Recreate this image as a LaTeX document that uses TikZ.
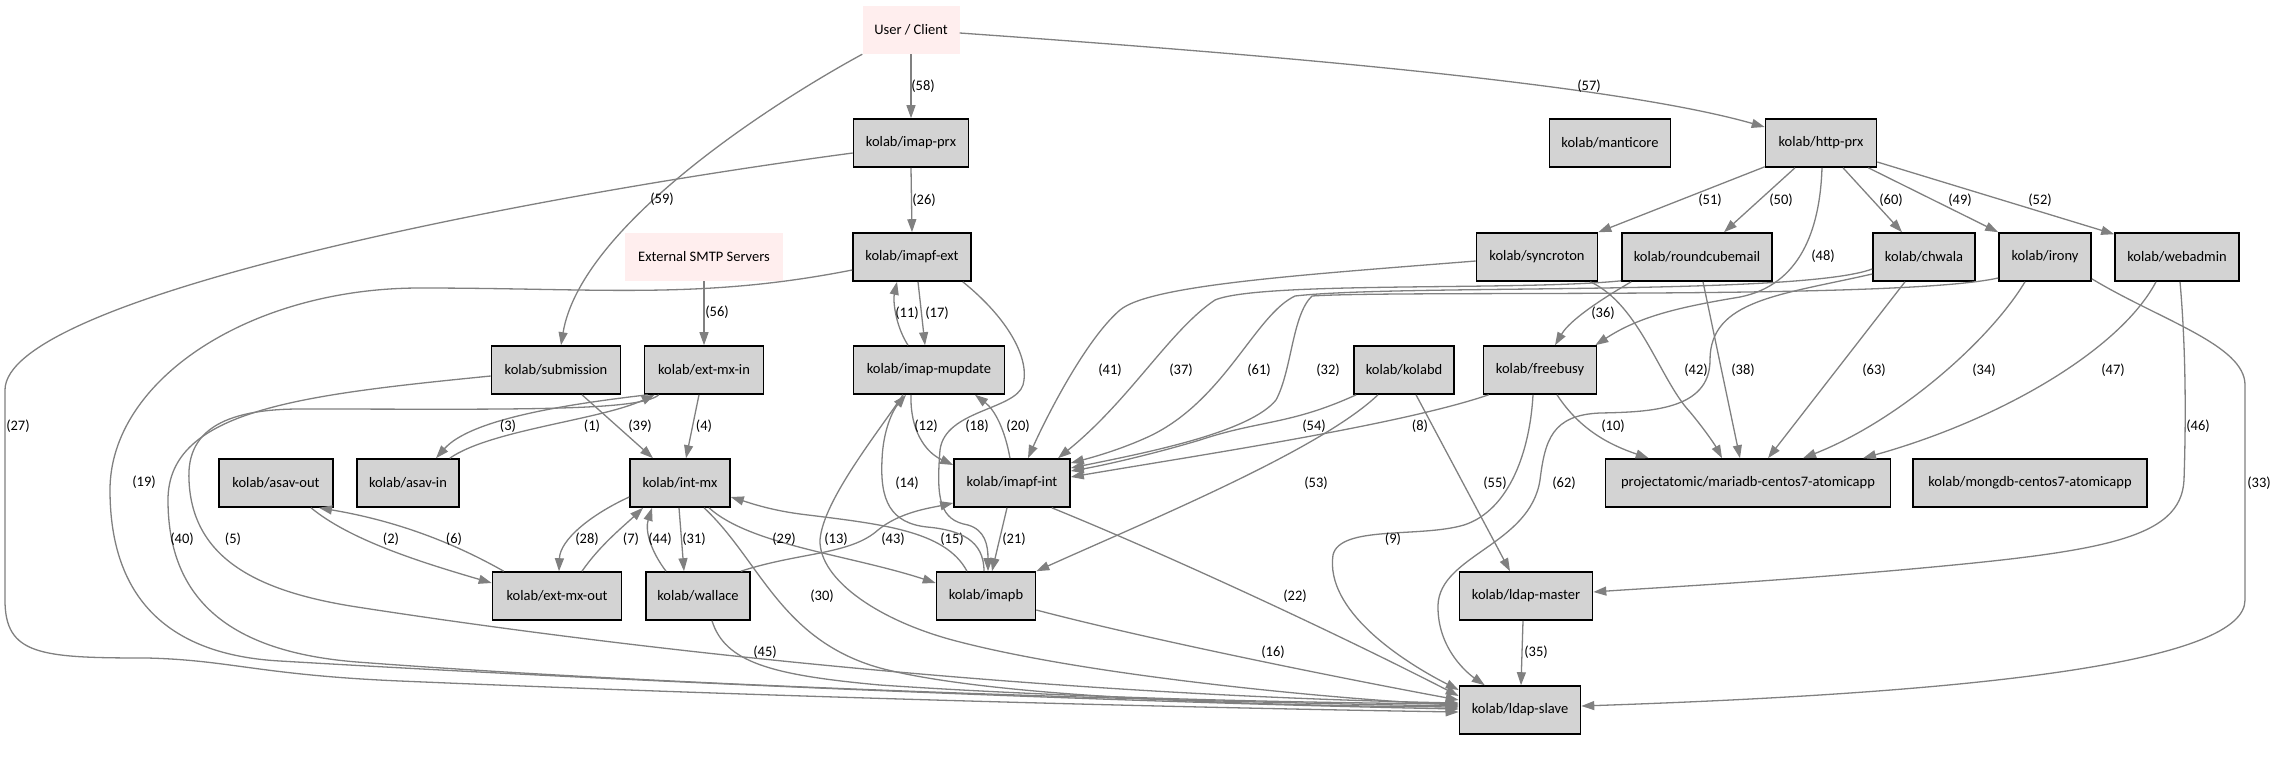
\documentclass[tikz,border=0pt]{standalone}
\usepackage{fontspec}
\setmainfont{Carlito}
\usetikzlibrary{arrows.meta,calc}
\definecolor{edgegray}{HTML}{808080}
\definecolor{nodefill}{HTML}{D3D3D3}
\definecolor{pinkfill}{HTML}{FFEEEE}
\begin{document}
\begin{tikzpicture}[x=1pt,y=-1pt,
  nbox/.style={draw=black, line width=1.6pt, fill=nodefill, minimum height=48pt, inner sep=0pt, font=\fontsize{14.5pt}{17pt}\selectfont},
  pbox/.style={fill=pinkfill, minimum height=48pt, inner sep=0pt, font=\fontsize{14.5pt}{17pt}\selectfont},
  edge/.style={draw=edgegray, line width=1.3pt, -{Triangle[length=13pt,width=9pt]}},
  lbl/.style={font=\fontsize{14.5pt}{17pt}\selectfont, text=black, inner sep=0pt}]
\useasboundingbox (0,0) rectangle (2279,761);
% nodes
\node[pbox, minimum width=97pt] (user) at (911,30) {User / Client};
\node[nbox, minimum width=115pt] (imapprx) at (911,143) {kolab/imap-prx};
\node[nbox, minimum width=111pt] (httpprx) at (1821,143) {kolab/http-prx};
\node[nbox, minimum width=121pt] (manticore) at (1610,143) {kolab/manticore};
\node[pbox, minimum width=158pt] (smtp) at (704,257) {External SMTP Servers};
\node[nbox, minimum width=118pt] (imapfext) at (912,257) {kolab/imapf-ext};
\node[nbox, minimum width=121pt] (syncroton) at (1537,257) {kolab/syncroton};
\node[nbox, minimum width=150pt] (roundcube) at (1697,257) {kolab/roundcubemail};
\node[nbox, minimum width=102pt] (chwala) at (1924,257) {kolab/chwala};
\node[nbox, minimum width=92pt] (irony) at (2045,257) {kolab/irony};
\node[nbox, minimum width=124pt] (webadmin) at (2177,257) {kolab/webadmin};
\node[nbox, minimum width=129pt] (submission) at (556,370) {kolab/submission};
\node[nbox, minimum width=119pt] (extmxin) at (704,370) {kolab/ext-mx-in};
\node[nbox, minimum width=151pt] (mupdate) at (929,370) {kolab/imap-mupdate};
\node[nbox, minimum width=100pt] (kolabd) at (1404,370) {kolab/kolabd};
\node[nbox, minimum width=113pt] (freebusy) at (1540,370) {kolab/freebusy};
\node[nbox, minimum width=114pt] (asavout) at (276,483) {kolab/asav-out};
\node[nbox, minimum width=102pt] (asavin) at (408,483) {kolab/asav-in};
\node[nbox, minimum width=100pt] (intmx) at (680,483) {kolab/int-mx};
\node[nbox, minimum width=116pt] (imapfint) at (1012,483) {kolab/imapf-int};
\node[nbox, minimum width=285pt] (mariadb) at (1748,483) {projectatomic/mariadb-centos7-atomicapp};
\node[nbox, minimum width=234pt] (mongodb) at (2030,483) {kolab/mongdb-centos7-atomicapp};
\node[nbox, minimum width=129pt] (extmxout) at (557,596) {kolab/ext-mx-out};
\node[nbox, minimum width=104pt] (wallace) at (698,596) {kolab/wallace};
\node[nbox, minimum width=99pt] (imapb) at (986,596) {kolab/imapb};
\node[nbox, minimum width=133pt] (ldapmaster) at (1526,596) {kolab/ldap-master};
\node[nbox, minimum width=121pt] (ldapslave) at (1520,710) {kolab/ldap-slave};
% edges
\draw[edge] (user.south) -- (imapprx.north) node[lbl] at (923,86) {(58)};
\draw[edge] (user.south west) .. controls (760,110) and (580,230) .. ($(submission.north)+(5,0)$) node[lbl] at (662,199) {(59)};
\draw[edge] ($(user.east)+(0,3)$) .. controls (1200,50) and (1600,80) .. ($(httpprx.west)+(0,-16)$) node[lbl] at (1589,86) {(57)};
\draw[edge] (imapprx.south) -- (imapfext.north) node[lbl] at (924,200) {(26)};
\draw[edge] ($(imapprx.west)+(0,10)$) .. controls (500,200) and (5,300) .. (5,390) -- (5,600) .. controls (5,655) and (40,658) .. (147,658) .. controls (230,660) and (260,675) .. (400,681) .. controls (800,698) and (1200,708) .. ($(ldapslave.west)+(0,2)$) node[lbl] at (18,426) {(27)};
\draw[edge] (smtp.south) -- (extmxin.north) node[lbl] at (717,312) {(56)};
\draw[edge] ($(imapfext.west)+(0,13)$) .. controls (700,300) and (600,288) .. (420,288) .. controls (250,288) and (110,380) .. (110,490) .. controls (110,600) and (170,655) .. (280,661) .. controls (600,680) and (1100,702) .. ($(ldapslave.west)+(0,-1)$) node[lbl] at (144,482) {(19)};
\draw[edge] ($(mupdate.north)+(-21,0)$) .. controls (895,325) and (893,300) .. ($(imapfext.south)+(-15,0)$) node[lbl] at (907,313) {(11)};
\draw[edge] ($(imapfext.south)+(6,0)$) -- ($(mupdate.north)+(-4,0)$) node[lbl] at (937,313) {(17)};
\draw[edge] ($(imapfext.south east)+(-9,0)$) .. controls (1010,320) and (1030,360) .. (1023,385) .. controls (1015,410) and (945,410) .. (940,450) .. controls (936,500) and (940,520) .. (968,525) .. controls (985,530) and (988,545) .. ($(imapb.north)+(2,0)$) node[lbl] at (977,426) {(18)};
\draw[edge] ($(submission.west)+(0,6)$) .. controls (300,395) and (168,410) .. (168,500) .. controls (168,600) and (230,652) .. (357,662) .. controls (700,688) and (1200,702) .. ($(ldapslave.west)+(0,-4)$) node[lbl] at (182,539) {(40)};
\draw[edge] ($(submission.south)+(26,0)$) -- ($(intmx.north)+(-27,0)$) node[lbl] at (640,426) {(39)};
\draw[edge] ($(extmxin.south west)+(15,0)$) .. controls (640,412) and (500,409) .. (300,409) .. controls (210,409) and (187,440) .. (189,480) .. controls (192,560) and (260,592) .. (357,607) .. controls (700,660) and (1100,696) .. ($(ldapslave.west)+(0,-7)$) node[lbl] at (233,539) {(5)};
\draw[edge] ($(extmxin.south west)+(4,0)$) .. controls (560,405) and (470,420) .. ($(asavin.north)+(28,0)$) node[lbl] at (508,426) {(3)};
\draw[edge] ($(asavin.north east)+(-10,0)$) .. controls (490,430) and (600,420) .. ($(extmxin.south west)+(11,0)$) node[lbl] at (592,426) {(1)};
\draw[edge] ($(extmxin.south)+(-5,0)$) -- ($(intmx.north)+(6,0)$) node[lbl] at (704,426) {(4)};
\draw[edge] ($(asavout.south)+(35,0)$) .. controls (350,540) and (420,562) .. ($(extmxout.west)+(0,-13)$) node[lbl] at (391,539) {(2)};
\draw[edge] ($(extmxout.north west)+(12,0)$) .. controls (440,535) and (380,518) .. ($(asavout.south)+(43,0)$) node[lbl] at (454,539) {(6)};
\draw[edge] ($(intmx.west)+(0,14)$) .. controls (590,515) and (560,540) .. ($(extmxout.north)+(2,0)$) node[lbl] at (587,539) {(28)};
\draw[edge] ($(extmxout.north)+(25,0)$) .. controls (600,545) and (625,525) .. ($(intmx.south)+(-37,0)$) node[lbl] at (631,539) {(7)};
\draw[edge] ($(wallace.north)+(-32,0)$) .. controls (650,550) and (645,530) .. ($(intmx.south)+(-28,0)$) node[lbl] at (660,539) {(44)};
\draw[edge] ($(intmx.south)+(-1,0)$) -- ($(wallace.north)+(-14,0)$) node[lbl] at (694,539) {(31)};
\draw[edge] ($(intmx.south)+(24,0)$) .. controls (760,560) and (780,640) .. (880,668) .. controls (1000,700) and (1300,706) .. ($(ldapslave.west)+(0,-3)$) node[lbl] at (822,596) {(30)};
\draw[edge] ($(intmx.south)+(29,0)$) .. controls (750,545) and (850,555) .. ($(imapb.west)+(0,-13)$) node[lbl] at (784,539) {(29)};
\draw[edge] ($(imapb.north)+(-19,0)$) .. controls (945,530) and (880,524) .. (800,514) .. controls (770,510) and (750,503) .. ($(intmx.east)+(0,14)$) node[lbl] at (952,539) {(15)};
\draw[edge] ($(wallace.north east)+(-10,0)$) .. controls (800,552) and (850,555) .. (878,530) .. controls (900,512) and (930,508) .. ($(imapfint.west)+(0,20)$) node[lbl] at (893,539) {(43)};
\draw[edge] ($(wallace.south)+(14,0)$) .. controls (725,662) and (770,675) .. (880,685) .. controls (1100,700) and (1350,703) .. ($(ldapslave.west)+(0,-6)$) node[lbl] at (765,652) {(45)};
\draw[edge] ($(mupdate.south)+(-26,0)$) .. controls (880,430) and (823,500) .. (820,540) .. controls (819,580) and (880,622) .. (960,642) .. controls (1100,678) and (1350,700) .. ($(ldapslave.west)+(0,-5)$) node[lbl] at (836,539) {(13)};
\draw[edge] ($(mupdate.south)+(-18,0)$) .. controls (910,430) and (925,452) .. ($(imapfint.west)+(0,-18)$) node[lbl] at (926,426) {(12)};
\draw[edge] ($(imapfint.north)+(-2,0)$) .. controls (1005,430) and (995,410) .. ($(mupdate.south)+(46,0)$) node[lbl] at (1018,426) {(20)};
\draw[edge] ($(imapb.north)+(-2,0)$) .. controls (984,540) and (960,530) .. (927,527) .. controls (890,523) and (880,500) .. (882,460) .. controls (883,430) and (893,410) .. ($(mupdate.south)+(-23,0)$) node[lbl] at (907,483) {(14)};
\draw[edge] ($(imapfint.south)+(-5,0)$) -- ($(imapb.north)+(6,0)$) node[lbl] at (1014,539) {(21)};
\draw[edge] ($(imapfint.south east)+(-19,0)$) .. controls (1180,560) and (1350,640) .. ($(ldapslave.west)+(0,-14)$) node[lbl] at (1295,596) {(22)};
\draw[edge] ($(imapb.east)+(0,14)$) .. controls (1150,640) and (1350,680) .. ($(ldapslave.west)+(0,-10)$) node[lbl] at (1273,652) {(16)};
\draw[edge] ($(kolabd.south)+(-26,0)$) .. controls (1320,450) and (1150,520) .. (imapb.north east) node[lbl] at (1316,483) {(53)};
\draw[edge] ($(kolabd.south west)+(3,0)$) .. controls (1290,425) and (1260,420) .. (1200,440) .. controls (1150,455) and (1100,466) .. ($(imapfint.east)+(0,-12)$) node[lbl] at (1314,426) {(54)};
\draw[edge] ($(freebusy.south west)+(6,0)$) .. controls (1400,425) and (1200,455) .. ($(imapfint.east)+(0,-6)$) node[lbl] at (1420,426) {(8)};
\draw[edge] ($(chwala.west)+(0,12)$) .. controls (1800,296) and (1400,284) .. (1295,296) .. controls (1255,315) and (1225,400) .. (1150,436) .. controls (1120,450) and (1090,458) .. ($(imapfint.east)+(0,-20)$) node[lbl] at (1259,370) {(61)};
\draw[edge] ($(irony.west)+(0,21)$) .. controls (1900,300) and (1400,290) .. (1312,296) .. controls (1292,315) and (1292,370) .. (1276,400) .. controls (1250,432) and (1150,452) .. ($(imapfint.east)+(0,-15)$) node[lbl] at (1328,370) {(32)};
\draw[edge] ($(syncroton.west)+(0,4)$) .. controls (1300,275) and (1150,285) .. (1120,310) .. controls (1085,340) and (1045,420) .. ($(imapfint.north)+(16,0)$) node[lbl] at (1110,370) {(41)};
\draw[edge] ($(roundcube.south west)+(0,-1)$) .. controls (1520,291) and (1260,281) .. (1215,300) .. controls (1170,330) and (1130,400) .. ($(imapfint.north)+(46,0)$) node[lbl] at (1181,370) {(37)};
\draw[edge] ($(roundcube.south west)+(10,0)$) .. controls (1600,300) and (1570,320) .. ($(freebusy.north)+(15,0)$) node[lbl] at (1603,313) {(36)};
\draw[edge] ($(httpprx.south)+(1,0)$) .. controls (1820,230) and (1800,285) .. (1740,297) .. controls (1680,307) and (1640,316) .. ($(freebusy.north east)+(-2,0)$) node[lbl] at (1823,256) {(48)};
\draw[edge] ($(chwala.west)+(0,17)$) .. controls (1780,295) and (1710,300) .. (1710,360) .. controls (1710,410) and (1650,412) .. (1600,413) .. controls (1552,415) and (1545,440) .. (1540,480) .. controls (1530,545) and (1440,555) .. (1438,605) .. controls (1437,650) and (1470,675) .. ($(ldapslave.north west)+(26,0)$) node[lbl] at (1564,483) {(62)};
\draw[edge] ($(freebusy.south)+(-7,0)$) .. controls (1530,450) and (1510,510) .. (1464,525) .. controls (1420,538) and (1340,525) .. (1333,555) .. controls (1325,610) and (1400,660) .. ($(ldapslave.west)+(0,-20)$) node[lbl] at (1393,539) {(9)};
\draw[edge] ($(kolabd.south)+(12,0)$) -- ($(ldapmaster.north)+(-16,0)$) node[lbl] at (1495,483) {(55)};
\draw[edge] ($(freebusy.south)+(17,0)$) .. controls (1580,430) and (1610,445) .. ($(mariadb.north west)+(44,0)$) node[lbl] at (1613,426) {(10)};
\draw[edge] ($(ldapmaster.south)+(-3,0)$) -- ($(ldapslave.north)+(1,0)$) node[lbl] at (1536,652) {(35)};
\draw[edge] ($(syncroton.south east)+(-8,0)$) .. controls (1640,305) and (1660,380) .. (1690,412) .. controls (1705,430) and (1715,445) .. ($(mariadb.north)+(-26,0)$) node[lbl] at (1696,370) {(42)};
\draw[edge] ($(roundcube.south)+(6,0)$) -- ($(mariadb.north)+(-8,0)$) node[lbl] at (1743,370) {(38)};
\draw[edge] ($(chwala.south)+(-19,0)$) -- ($(mariadb.north)+(20,0)$) node[lbl] at (1874,370) {(63)};
\draw[edge] ($(irony.south)+(-20,0)$) .. controls (1990,340) and (1900,420) .. ($(mariadb.north)+(55,0)$) node[lbl] at (1984,370) {(34)};
\draw[edge] ($(webadmin.south)+(-21,0)$) .. controls (2120,350) and (2000,420) .. ($(mariadb.north)+(115,0)$) node[lbl] at (2113,370) {(47)};
\draw[edge] ($(webadmin.south)+(3,0)$) .. controls (2186,350) and (2186,420) .. (2184,480) .. controls (2181,540) and (2100,552) .. (1900,570) .. controls (1750,583) and (1650,588) .. ($(ldapmaster.east)+(0,-4)$) node[lbl] at (2198,426) {(46)};
\draw[edge] ($(irony.south east)+(0,-3)$) .. controls (2160,320) and (2245,345) .. (2245,385) -- (2245,600) .. controls (2245,660) and (2000,692) .. ($(ldapslave.east)+(0,-4)$) node[lbl] at (2259,483) {(33)};
\draw[edge] ($(httpprx.south)+(22,0)$) -- ($(chwala.north)+(-22,0)$) node[lbl] at (1891,200) {(60)};
\draw[edge] ($(httpprx.south east)+(-9,0)$) -- (irony.north west) node[lbl] at (1960,200) {(49)};
\draw[edge] ($(httpprx.east)+(0,19)$) -- ($(webadmin.north west)+(0,2)$) node[lbl] at (2040,200) {(52)};
\draw[edge] ($(httpprx.south west)+(0,-1)$) -- (syncroton.north east) node[lbl] at (1710,200) {(51)};
\draw[edge] ($(httpprx.south)+(-26,0)$) -- ($(roundcube.north)+(27,0)$) node[lbl] at (1781,200) {(50)};
\end{tikzpicture}
\end{document}
